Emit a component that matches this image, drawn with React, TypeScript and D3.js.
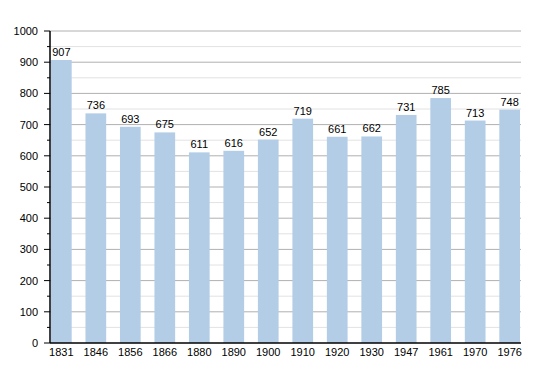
import React from 'react';
import * as d3 from 'd3';

const years = ['1831', '1846', '1856', '1866', '1880', '1890', '1900', '1910', '1920', '1930', '1947', '1961', '1970', '1976'];
const population = [907, 736, 693, 675, 611, 616, 652, 719, 661, 662, 731, 785, 713, 748];
const majorTicks = [0, 100, 200, 300, 400, 500, 600, 700, 800, 900, 1000];
const minorTicks = [50, 150, 250, 350, 450, 550, 650, 750, 850, 950];

export default function App() {
  const width = 550, height = 373;
  const left = 50, right = 521, top = 31, bottom = 343;

  const y = d3.scaleLinear().domain([0, 1000]).range([bottom, top]);
  const x = d3.scaleBand().domain(years).range([left + 1, right - 1]).paddingInner(0.4).paddingOuter(0);

  return (
    <svg width={width} height={height} style={{ position: 'absolute', left: 0, top: 0 }}
      fontFamily="'Liberation Sans', Arial, sans-serif">
      {/* grid */}
      {minorTicks.map(t => (
        <line key={'m' + t} x1={left} x2={right} y1={y(t)} y2={y(t)} stroke="#e2e2e2" strokeWidth={1} />
      ))}
      {majorTicks.filter(t => t > 0).map(t => (
        <line key={'g' + t} x1={left} x2={right} y1={y(t)} y2={y(t)} stroke="#b0b0b0" strokeWidth={1} />
      ))}
      {/* bars */}
      {years.map((yr, i) => (
        <g key={yr}>
          <rect x={x(yr)} y={y(population[i])} width={x.bandwidth()} height={bottom - y(population[i])} fill="#b3cde6" />
          <text x={x(yr)! + x.bandwidth() / 2} y={y(population[i]) - 4} textAnchor="middle" fontSize={11} fill="#000">{population[i]}</text>
          <text x={x(yr)! + x.bandwidth() / 2} y={bottom + 13} textAnchor="middle" fontSize={11} fill="#000">{yr}</text>
        </g>
      ))}
      {/* axes */}
      <line x1={left} x2={left} y1={top} y2={bottom} stroke="#000" strokeWidth={1.5} />
      <line x1={left} x2={right} y1={bottom} y2={bottom} stroke="#000" strokeWidth={1.5} />
      {majorTicks.map(t => (
        <g key={'t' + t}>
          <line x1={left - 6} x2={left} y1={y(t)} y2={y(t)} stroke="#000" />
          <text x={left - 12} y={y(t) + 4} textAnchor="end" fontSize={11} fill="#000">{t}</text>
        </g>
      ))}
      {minorTicks.map(t => (
        <line key={'mt' + t} x1={left - 3} x2={left} y1={y(t)} y2={y(t)} stroke="#000" />
      ))}
    </svg>
  );
}
